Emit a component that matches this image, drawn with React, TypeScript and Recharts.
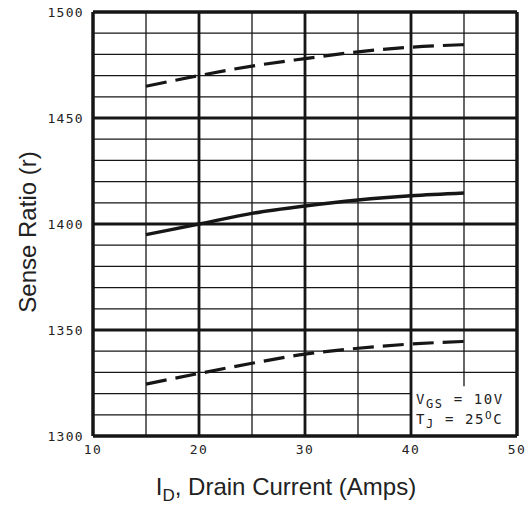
import React from 'react';
import {
  LineChart,
  Line,
  XAxis,
  YAxis,
  ReferenceLine,
  ReferenceArea,
} from 'recharts';

const current = [15, 20, 25, 30, 35, 40, 45];
const upperRatio = [1465, 1470, 1474.5, 1478, 1481.2, 1483.4, 1484.6];
const typicalRatio = [1395, 1400, 1405, 1408.5, 1411.3, 1413.3, 1414.6];
const lowerRatio = [1324.5, 1329.5, 1334.3, 1338.6, 1341.4, 1343.4, 1344.6];

const xTicks = [10, 20, 30, 40, 50];
const yTicks = [1300, 1350, 1400, 1450, 1500];
const xMinor = [15, 25, 35];
const xMajor = [20, 30, 40];
const yMinor = [1330, 1340, 1360, 1370, 1380, 1390, 1410, 1420, 1430, 1440, 1460, 1470, 1480, 1490];
const yMinorShort = [1310, 1320];
const yMajor = [1350, 1400, 1450];

const data = current.map((c, i) => ({
  current: c,
  upper: upperRatio[i],
  typical: typicalRatio[i],
  lower: lowerRatio[i],
}));

const INK = '#161616';
const tickStyle = { fontFamily: 'DejaVu Sans Mono', fontSize: 13, fill: '#222', letterSpacing: 1.3 };
const labelFont = 'Liberation Sans, Arial, sans-serif';

const NoteBox = (props: any) => {
  const { viewBox } = props;
  const x = viewBox.x + 5;
  const y = viewBox.y;
  return (
    <text fontFamily="DejaVu Sans Mono" fontSize={14} fill="#222" letterSpacing={1.6}>
      <tspan x={x} y={y + 18}>V</tspan>
      <tspan fontSize={12} dy={4}>GS</tspan>
      <tspan dy={-4}> = 10V</tspan>
      <tspan x={x} y={y + 38}>T</tspan>
      <tspan fontSize={12} dy={4}>J</tspan>
      <tspan dy={-4}> = 25</tspan>
      <tspan fontSize={11} dy={-5}>O</tspan>
      <tspan dy={5}>C</tspan>
    </text>
  );
};

export default function App() {
  return (
    <div style={{ position: 'absolute', left: 0, top: 0, background: '#fff' }}>
      <LineChart
        width={531}
        height={505}
        data={data}
        margin={{ top: 12, right: 14, bottom: 0, left: 0 }}
      >
        <XAxis
          dataKey="current"
          type="number"
          domain={[10, 50]}
          ticks={xTicks}
          axisLine={false}
          tickLine={false}
          tickMargin={3}
          height={69}
          tick={tickStyle}
          label={{
            content: () => (
              <text x={286} y={495} textAnchor="middle" fontFamily={labelFont} fontSize={24} fill="#222">
                <tspan>I</tspan>
                <tspan fontSize={17} dy={6}>D</tspan>
                <tspan dy={-6}>, Drain Current (Amps)</tspan>
              </text>
            ),
          }}
        />
        <YAxis
          type="number"
          domain={[1300, 1500]}
          ticks={yTicks}
          axisLine={false}
          tickLine={false}
          tickMargin={3}
          width={93}
          tick={tickStyle}
          label={{
            content: () => (
              <text
                x={36}
                y={232}
                textAnchor="middle"
                transform="rotate(-90 36 232)"
                fontFamily={labelFont}
                fontSize={24}
                fill="#222"
              >
                Sense Ratio (r)
              </text>
            ),
          }}
        />
        {yMinor.map((v) => (
          <ReferenceLine key={'ym' + v} y={v} stroke={INK} strokeWidth={1.3} />
        ))}
        {yMinorShort.map((v) => (
          <ReferenceLine
            key={'ys' + v}
            segment={[{ x: 10, y: v }, { x: 40, y: v }]}
            stroke={INK}
            strokeWidth={1.3}
          />
        ))}
        {xMinor.map((v) => (
          <ReferenceLine key={'xm' + v} x={v} stroke={INK} strokeWidth={1.3} />
        ))}
        <ReferenceLine
          segment={[{ x: 45, y: 1323.5 }, { x: 45, y: 1500 }]}
          stroke={INK}
          strokeWidth={1.3}
        />
        {yMajor.map((v) => (
          <ReferenceLine key={'yM' + v} y={v} stroke={INK} strokeWidth={2.8} />
        ))}
        {xMajor.map((v) => (
          <ReferenceLine key={'xM' + v} x={v} stroke={INK} strokeWidth={2.8} />
        ))}
        <ReferenceArea
          x1={40}
          x2={50}
          y1={1300}
          y2={1323.5}
          fill="#fff"
          fillOpacity={0}
          stroke="none"
          label={{ content: NoteBox }}
        />
        <ReferenceLine x={10} stroke={INK} strokeWidth={3.5} />
        <ReferenceLine x={50} stroke={INK} strokeWidth={3.5} />
        <ReferenceLine y={1300} stroke={INK} strokeWidth={3.5} />
        <ReferenceLine y={1500} stroke={INK} strokeWidth={3.5} />
        <Line
          dataKey="upper"
          type="monotone"
          stroke={INK}
          strokeWidth={3.2}
          strokeDasharray="21 9"
          dot={false}
          isAnimationActive={false}
        />
        <Line
          dataKey="typical"
          type="monotone"
          stroke={INK}
          strokeWidth={3.4}
          dot={false}
          isAnimationActive={false}
        />
        <Line
          dataKey="lower"
          type="monotone"
          stroke={INK}
          strokeWidth={3.2}
          strokeDasharray="21 9"
          dot={false}
          isAnimationActive={false}
        />
      </LineChart>
    </div>
  );
}
